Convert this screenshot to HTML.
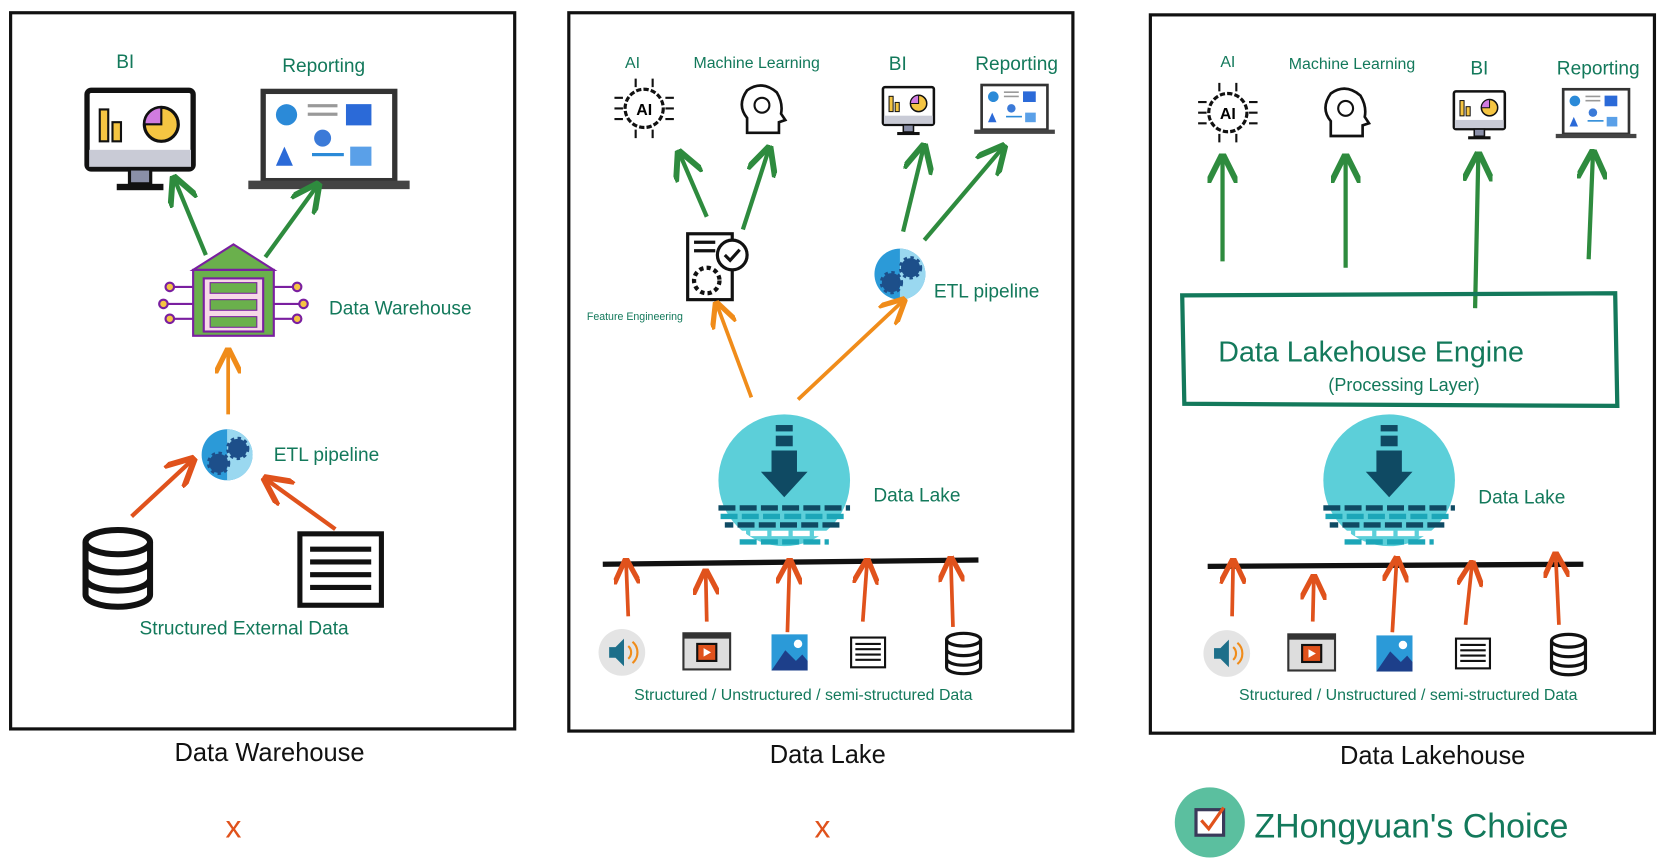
<!DOCTYPE html>
<html><head><meta charset="utf-8"><style>
html,body{margin:0;padding:0;background:#fff;}
svg{display:block}
text{font-family:"Liberation Sans",sans-serif;}
.g{fill:#13795b;}
</style></head><body>
<svg width="1664" height="866" viewBox="0 0 1568 815" preserveAspectRatio="none" xmlns="http://www.w3.org/2000/svg">
<defs>
<marker id="ag" viewBox="0 0 10 10" refX="8" refY="5" markerWidth="7" markerHeight="7" orient="auto"><path d="M0,0 L10,5 L0,10" fill="none" stroke="#2e8b3e" stroke-width="2"/></marker>
<marker id="ao" viewBox="0 0 10 10" refX="8" refY="5" markerWidth="7" markerHeight="7" orient="auto"><path d="M0,0 L10,5 L0,10" fill="none" stroke="#f08c1a" stroke-width="2"/></marker>
<marker id="ar" viewBox="0 0 10 10" refX="8" refY="5" markerWidth="7" markerHeight="7" orient="auto"><path d="M0,0 L10,5 L0,10" fill="none" stroke="#e0521c" stroke-width="2"/></marker>
<g id="mon"><rect x="0" y="0" width="100" height="74" rx="4" fill="#fff" stroke="#111" stroke-width="5"/><rect x="2" y="56" width="96" height="16" fill="#c9cbd6"/><rect x="40" y="74" width="20" height="14" fill="#8a8fa8" stroke="#111" stroke-width="3"/><rect x="28" y="88" width="44" height="6" fill="#111"/><rect x="12" y="18" width="8" height="30" fill="#f5c542" stroke="#111" stroke-width="2"/><rect x="24" y="30" width="8" height="18" fill="#f5c542" stroke="#111" stroke-width="2"/><circle cx="70" cy="32" r="16" fill="#f5c542" stroke="#111" stroke-width="3"/><path d="M70,32 L70,16 A16,16 0 0,0 54,32 Z" fill="#d07be0" stroke="#111" stroke-width="2"/></g>
<g id="lap"><rect x="14" y="0" width="124" height="84" fill="#fff" stroke="#333" stroke-width="5"/><rect x="0" y="84" width="152" height="8" fill="#444"/><circle cx="36" cy="22" r="10" fill="#2b8ad8"/><rect x="56" y="12" width="28" height="3" fill="#999"/><rect x="56" y="20" width="28" height="3" fill="#999"/><rect x="92" y="12" width="24" height="20" fill="#2b6ad8"/><circle cx="70" cy="44" r="8" fill="#3b7ad8"/><path d="M26,70 L34,52 L42,70 Z" fill="#2b6ad8"/><rect x="60" y="58" width="30" height="3" fill="#2b8ad8"/><rect x="96" y="52" width="20" height="18" fill="#5aa0e8"/></g>
<g id="etl"><circle cx="0" cy="0" r="24" fill="#2b9ad8"/><path d="M0,-24 A24,24 0 0,1 0,24 Z" fill="#9ad8f0"/><circle cx="-8" cy="8" r="9" fill="#1d4f8a" stroke="#1d4f8a" stroke-width="4" stroke-dasharray="3 3"/><circle cx="10" cy="-6" r="9" fill="#1d4f8a" stroke="#1d4f8a" stroke-width="4" stroke-dasharray="3 3"/></g>
<g id="lake"><circle cx="0" cy="0" r="62" fill="#5ccfd9"/><rect x="-8" y="-52" width="16" height="6" fill="#0f4a63"/><rect x="-8" y="-42" width="16" height="10" fill="#0f4a63"/><path d="M-12,-28 L12,-28 L12,-8 L22,-8 L0,16 L-22,-8 L-12,-8 Z" fill="#0f4a63"/><g stroke-width="5" stroke-dasharray="16 4"><line x1="-62" y1="26" x2="62" y2="26" stroke="#0f4a63"/><line x1="-60" y1="34" x2="60" y2="34" stroke="#1ca6b8"/><line x1="-56" y1="42" x2="56" y2="42" stroke="#0f4a63" stroke-dashoffset="8"/><line x1="-52" y1="50" x2="52" y2="50" stroke="#fff"/><line x1="-42" y1="58" x2="42" y2="58" stroke="#1ca6b8"/></g></g>
<g id="ai"><circle cx="0" cy="0" r="18" fill="#fff" stroke="#111" stroke-width="3" stroke-dasharray="5 2"/><text x="0" y="6" font-size="15" font-weight="bold" text-anchor="middle">AI</text><path d="M-28,-10h8M-28,0h8M-28,10h8M20,-10h8M20,0h8M20,10h8M-8,-28v8M8,-28v8M-8,20v8M8,20v8" stroke="#111" stroke-width="2"/></g>
<g id="head"><path d="M-14,22 L-14,8 Q-24,-4 -14,-18 Q0,-28 14,-16 Q20,-6 18,4 L22,10 L16,12 L16,22 Z" fill="#fff" stroke="#111" stroke-width="2.5"/><circle cx="0" cy="-4" r="7" fill="none" stroke="#111" stroke-width="2"/></g>
<g id="db"><ellipse cx="0" cy="-12" rx="16" ry="6" fill="#fff" stroke="#111" stroke-width="3"/><path d="M-16,-12 V14 A16,6 0 0,0 16,14 V-12 M-16,-3 A16,6 0 0,0 16,-3 M-16,6 A16,6 0 0,0 16,6" fill="none" stroke="#111" stroke-width="3"/></g>
<g id="srv"><rect x="-16" y="-14" width="32" height="28" fill="#fff" stroke="#111" stroke-width="2"/><path d="M-12,-8h24M-12,-3h24M-12,2h24M-12,7h24" stroke="#111" stroke-width="2"/></g>
<g id="src"><circle cx="0" cy="0" r="22" fill="#e4e4e4"/><path d="M-12,-5h6l8,-8v26l-8,-8h-6z" fill="#1d6f8a"/><path d="M6,-6 a8,8 0 0,1 0,12 M10,-10 a13,13 0 0,1 0,20" stroke="#f08c1a" fill="none" stroke-width="2"/>
<g transform="translate(80,0)"><rect x="-22" y="-18" width="44" height="34" fill="#ddd" stroke="#333" stroke-width="2"/><rect x="-22" y="-18" width="44" height="5" fill="#333"/><rect x="-9" y="-8" width="18" height="16" fill="#e0521c" stroke="#111" stroke-width="2"/><path d="M-3,-4 L4,0 L-3,4Z" fill="#fff"/></g>
<g transform="translate(158,0)"><rect x="-17" y="-17" width="34" height="34" fill="#2b9ad8"/><path d="M-17,17 L-4,-2 L6,8 L12,2 L17,8 L17,17Z" fill="#1d3f8a"/><circle cx="8" cy="-8" r="4" fill="#fff"/></g>
<g transform="translate(232,0)"><use href="#srv"/></g>
<g transform="translate(322,0)"><use href="#db"/></g></g>
</defs>

<!-- panels -->
<g fill="none" stroke="#111" stroke-width="3">
<rect x="10" y="12" width="475" height="674"/>
<rect x="536" y="12" width="475" height="676"/>
<rect x="1084" y="14" width="475" height="676"/>
</g>

<!-- Panel 1 -->
<text x="118" y="64" class="g" font-size="18" text-anchor="middle">BI</text>
<text x="305" y="68" class="g" font-size="18" text-anchor="middle">Reporting</text>
<use href="#mon" transform="translate(82,85)"/>
<use href="#lap" transform="translate(234,86)"/>
<path d="M194,240 L165,170" stroke="#2e8b3e" stroke-width="4" marker-end="url(#ag)"/>
<path d="M250,242 L298,176" stroke="#2e8b3e" stroke-width="4" marker-end="url(#ag)"/>
<g transform="translate(220,280)">
<path d="M-38,-26 L0,-50 L38,-26 Z" fill="#6ab04c" stroke="#7a1fa0" stroke-width="2"/>
<rect x="-38" y="-26" width="76" height="62" fill="#6ab04c" stroke="#7a1fa0" stroke-width="2"/>
<rect x="-28" y="-18" width="56" height="50" fill="#f6d8e8" stroke="#7a1fa0" stroke-width="2"/>
<rect x="-22" y="-14" width="44" height="10" fill="#6ab04c" stroke="#7a1fa0"/><rect x="-22" y="2" width="44" height="10" fill="#6ab04c" stroke="#7a1fa0"/><rect x="-22" y="18" width="44" height="10" fill="#6ab04c" stroke="#7a1fa0"/>
<path d="M-38,-10 h-20 M-38,6 h-26 M-38,20 h-20 M38,-10 h20 M38,6 h26 M38,20 h20" stroke="#7a1fa0" stroke-width="2"/>
<g fill="#f5c542" stroke="#7a1fa0" stroke-width="2"><circle cx="-60" cy="-10" r="4"/><circle cx="-66" cy="6" r="4"/><circle cx="-60" cy="20" r="4"/><circle cx="60" cy="-10" r="4"/><circle cx="66" cy="6" r="4"/><circle cx="60" cy="20" r="4"/></g></g>
<text x="310" y="296" class="g" font-size="18">Data Warehouse</text>
<path d="M215,390 L215,332" stroke="#f08c1a" stroke-width="3.5" marker-end="url(#ao)"/>
<use href="#etl" transform="translate(214,428)"/>
<text x="258" y="434" class="g" font-size="18">ETL pipeline</text>
<path d="M124,486 L180,434" stroke="#e0521c" stroke-width="4" marker-end="url(#ar)"/>
<path d="M316,498 L252,452" stroke="#e0521c" stroke-width="4" marker-end="url(#ar)"/>
<g transform="translate(111,533) scale(1.9)"><use href="#db"/></g>
<g transform="translate(321,536) scale(2.4)"><use href="#srv"/></g>
<text x="230" y="597" class="g" font-size="18" text-anchor="middle">Structured External Data</text>

<!-- Panel 2 -->
<text x="596" y="64" class="g" font-size="15" text-anchor="middle">AI</text>
<text x="713" y="64" class="g" font-size="15" text-anchor="middle">Machine Learning</text>
<text x="846" y="66" class="g" font-size="18" text-anchor="middle">BI</text>
<text x="958" y="66" class="g" font-size="18" text-anchor="middle">Reporting</text>
<use href="#ai" transform="translate(607,102)"/>
<use href="#head" transform="translate(718,103)"/>
<use href="#mon" transform="translate(832,82) scale(0.48)"/>
<use href="#lap" transform="translate(918,80) scale(0.5)"/>
<path d="M666,204 L641,146" stroke="#2e8b3e" stroke-width="4" marker-end="url(#ag)"/>
<path d="M700,216 L724,142" stroke="#2e8b3e" stroke-width="4" marker-end="url(#ag)"/>
<path d="M851,218 L870,140" stroke="#2e8b3e" stroke-width="4" marker-end="url(#ag)"/>
<path d="M871,226 L944,140" stroke="#2e8b3e" stroke-width="4" marker-end="url(#ag)"/>
<g transform="translate(672,250)"><rect x="-24" y="-30" width="42" height="62" fill="#fff" stroke="#111" stroke-width="3"/><circle cx="-6" cy="14" r="12" fill="none" stroke="#111" stroke-width="4" stroke-dasharray="4 3"/><circle cx="18" cy="-10" r="14" fill="#fff" stroke="#111" stroke-width="3"/><path d="M11,-10 l5,5 l9,-10" stroke="#111" stroke-width="3" fill="none"/><path d="M-18,-22h20M-18,-14h20" stroke="#111" stroke-width="3"/></g>
<text x="553" y="301" class="g" font-size="10">Feature Engineering</text>
<use href="#etl" transform="translate(848,258)"/>
<text x="880" y="280" class="g" font-size="18">ETL pipeline</text>
<path d="M708,374 L676,288" stroke="#f08c1a" stroke-width="3.5" marker-end="url(#ao)"/>
<path d="M752,376 L850,284" stroke="#f08c1a" stroke-width="3.5" marker-end="url(#ao)"/>
<use href="#lake" transform="translate(739,452)"/>
<text x="823" y="472" class="g" font-size="18">Data Lake</text>
<path d="M568,531 L922,527" stroke="#111" stroke-width="5"/>
<g stroke="#e0521c" stroke-width="3.5" marker-end="url(#ar)">
<path d="M592,580 L590,530"/><path d="M666,585 L665,540"/><path d="M742,595 L744,530"/><path d="M813,585 L817,530"/><path d="M898,590 L896,528"/></g>
<use href="#src" transform="translate(586,614)"/>
<text x="757" y="659" class="g" font-size="15" text-anchor="middle">Structured / Unstructured / semi-structured Data</text>

<!-- Panel 3 -->
<text x="1157" y="63" class="g" font-size="15" text-anchor="middle">AI</text>
<text x="1274" y="65" class="g" font-size="15" text-anchor="middle">Machine Learning</text>
<text x="1394" y="70" class="g" font-size="18" text-anchor="middle">BI</text>
<text x="1506" y="70" class="g" font-size="18" text-anchor="middle">Reporting</text>
<use href="#ai" transform="translate(1157,106)"/>
<use href="#head" transform="translate(1268,106)"/>
<use href="#mon" transform="translate(1370,86) scale(0.48)"/>
<use href="#lap" transform="translate(1466,84) scale(0.5)"/>
<g stroke="#2e8b3e" stroke-width="4" marker-end="url(#ag)">
<path d="M1152,246 L1152,150"/><path d="M1268,252 L1268,150"/><path d="M1390,290 L1393,148"/><path d="M1497,244 L1501,146"/></g>
<path d="M1114,278 L1522,276 L1524,382 L1116,380 Z" fill="none" stroke="#13795b" stroke-width="4"/>
<text x="1148" y="340" class="g" font-size="27">Data Lakehouse Engine</text>
<text x="1323" y="368" class="g" font-size="17" text-anchor="middle">(Processing Layer)</text>
<use href="#lake" transform="translate(1309,452)"/>
<text x="1393" y="474" class="g" font-size="18">Data Lake</text>
<path d="M1138,533 L1492,531" stroke="#111" stroke-width="5"/>
<g stroke="#e0521c" stroke-width="3.5" marker-end="url(#ar)">
<path d="M1161,580 L1162,530"/><path d="M1237,585 L1238,545"/><path d="M1312,595 L1316,528"/><path d="M1381,588 L1387,532"/><path d="M1469,588 L1466,524"/></g>
<use href="#src" transform="translate(1156,615)"/>
<text x="1327" y="659" class="g" font-size="15" text-anchor="middle">Structured / Unstructured / semi-structured Data</text>

<!-- captions -->
<text x="254" y="716" font-size="24" text-anchor="middle" fill="#111">Data Warehouse</text>
<text x="780" y="718" font-size="24" text-anchor="middle" fill="#111">Data Lake</text>
<text x="1350" y="719" font-size="24" text-anchor="middle" fill="#111">Data Lakehouse</text>
<text x="220" y="788" font-size="30" text-anchor="middle" fill="#e0521c">x</text>
<text x="775" y="788" font-size="30" text-anchor="middle" fill="#e0521c">x</text>
<circle cx="1140" cy="774" r="33" fill="#5bbf9f"/>
<rect x="1127" y="762" width="26" height="24" fill="#fff" stroke="#3a3a5a" stroke-width="3"/>
<path d="M1132,772 l7,8 l14,-20" stroke="#e0521c" stroke-width="3" fill="none"/>
<text x="1182" y="788" font-size="32" fill="#13795b">ZHongyuan's Choice</text>
</svg>
</body></html>
